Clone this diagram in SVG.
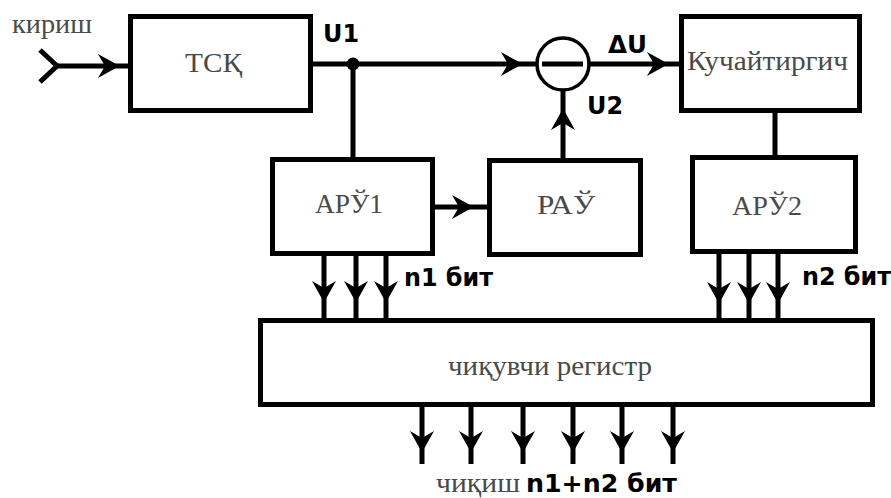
<svg xmlns="http://www.w3.org/2000/svg" xmlns:xlink="http://www.w3.org/1999/xlink" width="891" height="498" viewBox="0 0 891 498">
<style>
.box{fill:#fff;stroke:#000;stroke-width:5}
.ln{fill:none;stroke:#000;stroke-width:5}
.lbl{font-family:"Liberation Serif","Times New Roman",serif;font-size:28px;fill:#4a4a4a}
.sig{font-family:"DejaVu Sans","Liberation Sans",sans-serif;font-weight:bold;font-size:24px;fill:#000}
</style>
<defs>
<path id="ah" d="M0,0 L-18,-10 L-12,0 L-18,10 Z" fill="#000" stroke="#000" stroke-width="1.5" stroke-linejoin="miter"/>
</defs>
<rect width="891" height="498" fill="#fff"/>
<g id="connectors">
<polyline class="ln" points="40,50 57,66 40,82"/>
<line class="ln" x1="57" y1="66" x2="130" y2="66"/>
<use xlink:href="#ah" transform="translate(118,66)"/>
<line class="ln" x1="311" y1="64" x2="537" y2="64"/>
<circle cx="353" cy="64" r="6.5" fill="#000"/>
<use xlink:href="#ah" transform="translate(521,64)"/>
<line class="ln" x1="353" y1="64" x2="353" y2="159"/>
<line class="ln" x1="589" y1="64" x2="681" y2="64"/>
<use xlink:href="#ah" transform="translate(667,64)"/>
<line class="ln" x1="563" y1="90" x2="563" y2="160"/>
<use xlink:href="#ah" transform="translate(563,110) rotate(-90)"/>
<line class="ln" x1="775" y1="111" x2="775" y2="157"/>
<line class="ln" x1="433" y1="207" x2="489" y2="207"/>
<use xlink:href="#ah" transform="translate(472,207)"/>
<g>
<line class="ln" x1="324" y1="254" x2="324" y2="320"/>
<line class="ln" x1="356" y1="254" x2="356" y2="320"/>
<line class="ln" x1="386" y1="254" x2="386" y2="320"/>
<use xlink:href="#ah" transform="translate(324,301) rotate(90)"/>
<use xlink:href="#ah" transform="translate(356,301) rotate(90)"/>
<use xlink:href="#ah" transform="translate(386,301) rotate(90)"/>
</g>
<g>
<line class="ln" x1="719" y1="252" x2="719" y2="320"/>
<line class="ln" x1="749" y1="252" x2="749" y2="320"/>
<line class="ln" x1="778" y1="252" x2="778" y2="320"/>
<use xlink:href="#ah" transform="translate(719,302) rotate(90)"/>
<use xlink:href="#ah" transform="translate(749,302) rotate(90)"/>
<use xlink:href="#ah" transform="translate(778,302) rotate(90)"/>
</g>
<g>
<line class="ln" x1="422" y1="405" x2="422" y2="464"/>
<line class="ln" x1="471" y1="405" x2="471" y2="464"/>
<line class="ln" x1="523" y1="405" x2="523" y2="464"/>
<line class="ln" x1="573" y1="405" x2="573" y2="464"/>
<line class="ln" x1="622" y1="405" x2="622" y2="464"/>
<line class="ln" x1="673" y1="405" x2="673" y2="464"/>
<use xlink:href="#ah" transform="translate(422,451) rotate(90)"/>
<use xlink:href="#ah" transform="translate(471,451) rotate(90)"/>
<use xlink:href="#ah" transform="translate(523,451) rotate(90)"/>
<use xlink:href="#ah" transform="translate(573,451) rotate(90)"/>
<use xlink:href="#ah" transform="translate(622,451) rotate(90)"/>
<use xlink:href="#ah" transform="translate(673,451) rotate(90)"/>
</g>
</g>
<g id="input-label"><text class="lbl" x="12" y="33" textLength="80" lengthAdjust="spacingAndGlyphs">кириш</text></g>
<g id="tsk"><rect class="box" x="130.5" y="16.5" width="180" height="94"/><text class="lbl" x="185" y="72" textLength="57" lengthAdjust="spacingAndGlyphs" font-size="29">ТСҚ</text></g>
<g id="u1"><text class="sig" x="323" y="42" textLength="36" lengthAdjust="spacingAndGlyphs">U1</text></g>
<g id="subtractor"><circle cx="563" cy="64" r="26" fill="#fff" stroke="#000" stroke-width="3.5"/><line x1="542" y1="64" x2="583" y2="64" stroke="#000" stroke-width="5"/></g>
<g id="du"><text class="sig" x="608" y="53" textLength="39" lengthAdjust="spacingAndGlyphs">ΔU</text></g>
<g id="u2"><text class="sig" x="587" y="114" textLength="36" lengthAdjust="spacingAndGlyphs">U2</text></g>
<g id="amp"><rect class="box" x="681.5" y="16.5" width="178" height="94"/><text class="lbl" x="687" y="70" textLength="161" lengthAdjust="spacingAndGlyphs">Кучайтиргич</text></g>
<g id="aru1"><rect class="box" x="272.5" y="159.5" width="160" height="94"/><text class="lbl" x="315" y="213" textLength="68" lengthAdjust="spacingAndGlyphs">АРЎ1</text></g>
<g id="rau"><rect class="box" x="489.5" y="160.5" width="151" height="94"/><text class="lbl" x="537" y="214" textLength="58" lengthAdjust="spacingAndGlyphs">РАЎ</text></g>
<g id="aru2"><rect class="box" x="692.5" y="157.5" width="163" height="94"/><text class="lbl" x="732" y="215" textLength="70" lengthAdjust="spacingAndGlyphs">АРЎ2</text></g>
<g id="n1"><text class="sig" x="404" y="286" textLength="89" lengthAdjust="spacingAndGlyphs">n1 бит</text></g>
<g id="n2"><text class="sig" x="802" y="285" textLength="89" lengthAdjust="spacingAndGlyphs">n2 бит</text></g>
<g id="register"><rect class="box" x="260.5" y="320.5" width="612" height="84"/><text class="lbl" x="448" y="375" textLength="204" lengthAdjust="spacingAndGlyphs">чиқувчи регистр</text></g>
<g id="output-label"><text class="lbl" x="436" y="492" textLength="84" lengthAdjust="spacingAndGlyphs">чиқиш</text><text class="sig" x="526" y="492" textLength="151" lengthAdjust="spacingAndGlyphs">n1+n2 бит</text></g>
</svg>
